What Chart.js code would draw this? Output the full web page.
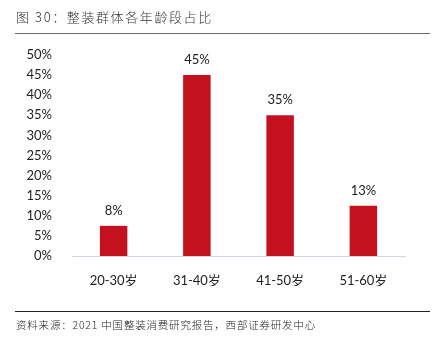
<!DOCTYPE html>
<html>
<head>
<meta charset="utf-8">
<script src="https://cdn.jsdelivr.net/npm/chart.js@4"></script>
<style>
  html, body { margin: 0; padding: 0; background: #fff; }
  #wrap { width: 434px; height: 343px; position: relative; }
</style>
</head>
<body>
<div id="wrap"><canvas id="plot"></canvas></div>
<script>
// 年龄段与占比（%）
let categorias = ['20-30岁', '31-40岁', '41-50岁', '51-60岁'];
let valores = [7.5, 45, 35, 12.5];
let ticksY = [0, 5, 10, 15, 20, 25, 30, 35, 40, 45, 50];

let titulo = '图 30：整装群体各年龄段占比';
let fuente = '资料来源：2021 中国整装消费研究报告，西部证券研发中心';

let fuenteNum = 'Lato, "Noto Sans", sans-serif';
let fuenteCJK = '"Noto Sans CJK SC", sans-serif';

// Título, líneas y nota de fuente
let marco = {
  id: 'marco',
  afterDraw(chart) {
    let ctx = chart.ctx;
    ctx.save();
    ctx.fillStyle = '#333';
    ctx.textBaseline = 'middle';
    ctx.textAlign = 'left';
    ctx.font = '300 13px ' + fuenteCJK;
    ctx.letterSpacing = '1.6px';
    ctx.fillText(titulo, 16, 17);

    ctx.strokeStyle = '#6b6b6b';
    ctx.lineWidth = 1;
    ctx.beginPath();
    ctx.moveTo(15, 33.5);
    ctx.lineTo(430, 33.5);
    ctx.stroke();

    ctx.strokeStyle = '#222';
    ctx.beginPath();
    ctx.moveTo(15, 311.5);
    ctx.lineTo(430, 311.5);
    ctx.stroke();

    ctx.font = '300 10.5px ' + fuenteCJK;
    ctx.letterSpacing = '0.8px';
    ctx.fillStyle = '#222';
    ctx.fillText(fuente, 16, 325);
    ctx.restore();
  }
};

// Etiquetas de valor sobre cada barra
let etiquetas = {
  id: 'etiquetas',
  afterDatasetsDraw(chart) {
    let ctx = chart.ctx;
    let meta = chart.getDatasetMeta(0);
    ctx.save();
    ctx.font = '13px ' + fuenteNum;
    ctx.fillStyle = '#222';
    ctx.textAlign = 'center';
    ctx.textBaseline = 'middle';
    meta.data.forEach((bar, i) => {
      ctx.fillText(Math.round(valores[i]) + '%', bar.x, bar.y - 15);
    });
    ctx.restore();
  }
};

let config = {
  type: 'bar',
  data: {
    labels: categorias,
    datasets: [{
      data: valores,
      backgroundColor: '#C3111F',
      categoryPercentage: 1,
      barPercentage: 0.33
    }]
  },
  options: {
    responsive: false,
    animation: false,
    layout: { padding: { left: 0, right: 29, top: 55, bottom: 57 } },
    plugins: { legend: { display: false }, tooltip: { enabled: false } },
    scales: {
      x: {
        grid: { display: false },
        border: { color: '#CFD6E1', width: 1 },
        ticks: { color: '#222', font: { family: fuenteNum + ', ' + fuenteCJK, size: 13 }, padding: 9 },
        afterFit: (axis) => { axis.height = 30; }
      },
      y: {
        min: 0,
        max: 50,
        grid: { display: false },
        border: { display: false },
        afterBuildTicks: (axis) => { axis.ticks = ticksY.map(v => ({ value: v })); },
        ticks: {
          color: '#222',
          font: { family: fuenteNum, size: 13 },
          padding: 12,
          callback: (v) => v + '%'
        },
        afterFit: (axis) => { axis.width = 72; }
      }
    }
  },
  plugins: [marco, etiquetas]
};

let canvas = document.getElementById('plot');
canvas.width = 434;
canvas.height = 343;
let grafico = new Chart(canvas, config);
</script>
</body>
</html>
